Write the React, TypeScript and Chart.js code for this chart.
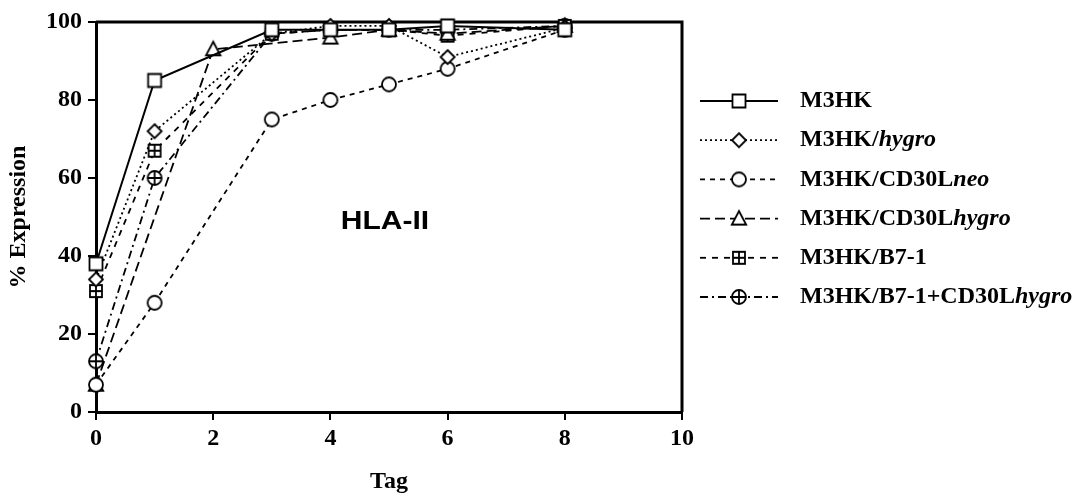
import React, { useEffect, useRef } from "react";
import { Chart, registerables } from "chart.js";

Chart.register(...registerables);

const xTicks = [0, 2, 4, 6, 8, 10];
const yTicks = [0, 20, 40, 60, 80, 100];

const daysM3HK = [0, 1, 3, 4, 5, 6, 8];
const valM3HK = [38, 85, 98, 98, 98, 99, 98];
const daysHygro = [0, 1, 3, 4, 5, 6, 8];
const valHygro = [34, 72, 97, 99, 99, 91, 98.5];
const daysNeo = [0, 1, 3, 4, 5, 6, 8];
const valNeo = [7, 28, 75, 80, 84, 88, 98];
const daysCDHygro = [0, 2, 4, 5, 6, 8];
const valCDHygro = [7, 93, 96, 98, 97, 99];
const daysB7 = [0, 1, 3, 4, 5, 6, 8];
const valB7 = [31, 67, 97, 98, 98, 96.5, 99];
const daysB7CD = [0, 1, 3, 4, 5, 6, 8];
const valB7CD = [13, 60, 97, 98, 98, 98, 99];

const legendPlain = ["M3HK", "M3HK/", "M3HK/CD30L", "M3HK/CD30L", "M3HK/B7-1", "M3HK/B7-1+CD30L"];
const legendItalic = ["", "hygro", "neo", "hygro", "", "hygro"];
const markerKinds = ["square", "diamond", "circle", "triangle", "squarePlus", "circlePlus"];
const dashes: number[][] = [[], [2, 3], [5, 5], [10, 5], [6, 6], [8, 4, 2, 4]];

const SERIF = "'Liberation Serif', 'Times New Roman', serif";

function makeMarker(kind: string): HTMLCanvasElement {
  const c = document.createElement("canvas");
  c.width = 20;
  c.height = 20;
  const ctx = c.getContext("2d")!;
  ctx.lineWidth = 1.8;
  ctx.strokeStyle = "#000";
  ctx.fillStyle = "#fff";
  const cx = 10, cy = 10;
  ctx.beginPath();
  if (kind === "square" || kind === "squarePlus") {
    const h = kind === "square" ? 6.5 : 6;
    ctx.rect(cx - h, cy - h, 2 * h, 2 * h);
  } else if (kind === "diamond") {
    ctx.moveTo(cx, cy - 7);
    ctx.lineTo(cx + 7, cy);
    ctx.lineTo(cx, cy + 7);
    ctx.lineTo(cx - 7, cy);
    ctx.closePath();
  } else if (kind === "circle" || kind === "circlePlus") {
    ctx.arc(cx, cy, 7, 0, Math.PI * 2);
  } else if (kind === "triangle") {
    ctx.moveTo(cx, cy - 7.5);
    ctx.lineTo(cx + 7.2, cy + 6);
    ctx.lineTo(cx - 7.2, cy + 6);
    ctx.closePath();
  }
  ctx.fill();
  ctx.stroke();
  if (kind === "squarePlus" || kind === "circlePlus") {
    const h = kind === "squarePlus" ? 6 : 7;
    ctx.beginPath();
    ctx.moveTo(cx - h, cy);
    ctx.lineTo(cx + h, cy);
    ctx.moveTo(cx, cy - h);
    ctx.lineTo(cx, cy + h);
    ctx.stroke();
  }
  return c;
}

export default function App() {
  const ref = useRef<HTMLCanvasElement | null>(null);

  useEffect(() => {
    document.body.style.margin = "0";
    const canvas = ref.current!;
    const markers = markerKinds.map(makeMarker);
    const seriesDays = [daysM3HK, daysHygro, daysNeo, daysCDHygro, daysB7, daysB7CD];
    const seriesVals = [valM3HK, valHygro, valNeo, valCDHygro, valB7, valB7CD];

    const datasets = seriesDays.map((days, i) => ({
      label: legendPlain[i] + legendItalic[i],
      data: days.map((d, j) => ({ x: d, y: seriesVals[i][j] })),
      borderColor: "#000",
      backgroundColor: "#fff",
      borderWidth: i === 0 ? 2 : 1.8,
      borderDash: dashes[i],
      pointStyle: markers[i] as any,
      pointRadius: 7,
      fill: false,
      tension: 0,
      clip: false as any,
    }));

    const framePlugin = {
      id: "frame",
      beforeDatasetsDraw(chart: any) {
        const { ctx, chartArea } = chart;
        ctx.save();
        ctx.strokeStyle = "#000";
        ctx.lineWidth = 3;
        ctx.beginPath();
        ctx.moveTo(chartArea.left, chartArea.top);
        ctx.lineTo(chartArea.right, chartArea.top);
        ctx.lineTo(chartArea.right, chartArea.bottom);
        ctx.stroke();
        // annotation text
        ctx.fillStyle = "#000";
        ctx.font = "bold 25px 'Liberation Sans', Arial, sans-serif";
        ctx.textAlign = "center";
        ctx.textBaseline = "middle";
        ctx.translate(chart.scales.x.getPixelForValue(4.93), chart.scales.y.getPixelForValue(48.7));
        ctx.scale(1.2, 1);
        ctx.fillText("HLA-II", 0, 0);
        ctx.restore();
      },
      afterDraw(chart: any) {
        const { ctx } = chart;
        ctx.save();
        for (let i = 0; i < legendPlain.length; i++) {
          const y = 101 + i * 39.2;
          ctx.strokeStyle = "#000";
          ctx.lineWidth = i === 0 ? 2 : 1.8;
          ctx.setLineDash(dashes[i]);
          ctx.beginPath();
          ctx.moveTo(700, y);
          ctx.lineTo(778, y);
          ctx.stroke();
          ctx.setLineDash([]);
          const m = markers[i];
          ctx.drawImage(m, 739 - m.width / 2, y - m.height / 2);
          ctx.fillStyle = "#000";
          ctx.textAlign = "left";
          ctx.textBaseline = "middle";
          ctx.font = `bold 24px ${SERIF}`;
          ctx.fillText(legendPlain[i], 800, y);
          const w = ctx.measureText(legendPlain[i]).width;
          if (legendItalic[i]) {
            ctx.font = `italic bold 24px ${SERIF}`;
            ctx.fillText(legendItalic[i], 800 + w, y);
          }
        }
        ctx.restore();
      },
    };

    const tickFont = { family: SERIF, weight: "bold" as const, size: 24 };

    const chart = new Chart(canvas, {
      type: "line",
      data: { datasets: datasets as any },
      options: {
        responsive: false,
        animation: false,
        layout: { padding: { top: 22, right: 391, left: 0, bottom: 0 } },
        plugins: { legend: { display: false }, tooltip: { enabled: false } },
        scales: {
          x: {
            type: "linear",
            min: 0,
            max: 10,
            afterBuildTicks: (s: any) => {
              s.ticks = xTicks.map((v) => ({ value: v }));
            },
            afterFit: (s: any) => {
              s.height = 90;
            },
            border: { color: "#000", width: 3 },
            grid: { drawOnChartArea: false, drawTicks: true, tickLength: 8, color: "#000", lineWidth: 2 },
            ticks: { color: "#000", font: tickFont, padding: 4, maxRotation: 0 },
            title: { display: true, text: "Tag", color: "#000", font: tickFont, padding: { top: 6, bottom: 6 } },
          },
          y: {
            type: "linear",
            min: 0,
            max: 100,
            afterBuildTicks: (s: any) => {
              s.ticks = yTicks.map((v) => ({ value: v }));
            },
            afterFit: (s: any) => {
              s.width = 96;
            },
            border: { color: "#000", width: 3 },
            grid: { drawOnChartArea: false, drawTicks: true, tickLength: 8, color: "#000", lineWidth: 2 },
            ticks: { color: "#000", font: tickFont, padding: 6 },
            title: { display: true, text: "% Expression", color: "#000", font: tickFont, padding: { top: 4, bottom: 4 } },
          },
        },
      },
      plugins: [framePlugin],
    });
    return () => chart.destroy();
  }, []);

  return (
    <div style={{ width: 1073, height: 502, position: "relative", background: "#fff" }}>
      <canvas ref={ref} width={1073} height={502} style={{ display: "block", width: 1073, height: 502 }} />
    </div>
  );
}
